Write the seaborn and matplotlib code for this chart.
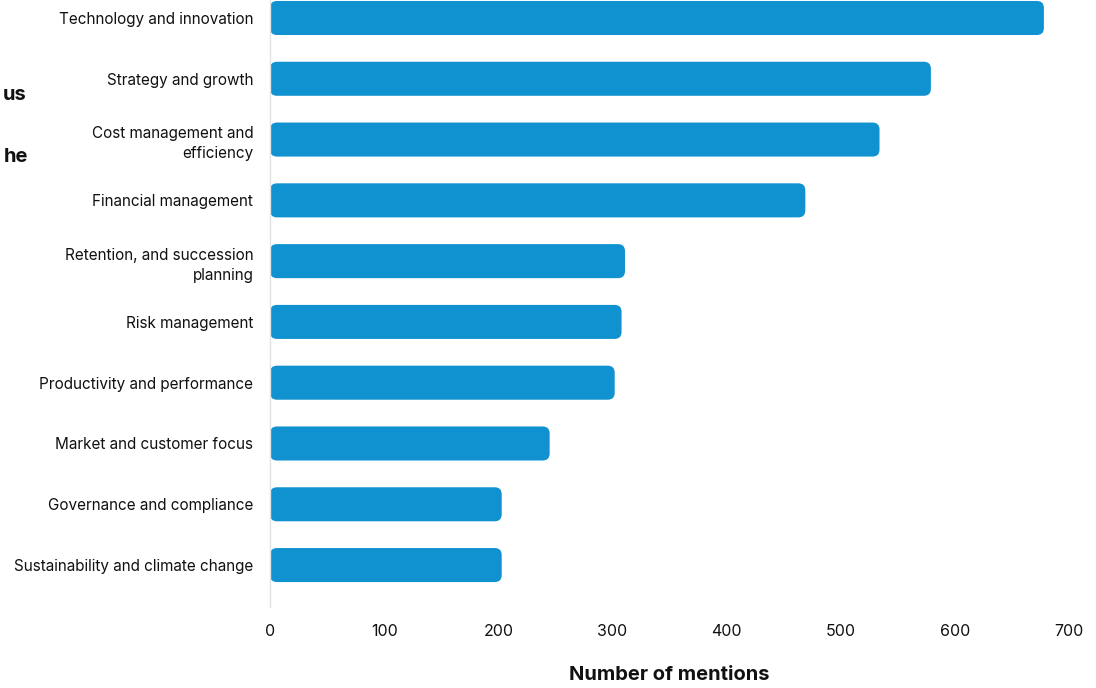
import matplotlib
matplotlib.use("Agg")
import matplotlib.pyplot as plt
from matplotlib.patches import FancyBboxPatch
import seaborn as sns
import pandas as pd

themes = [
    "Technology and innovation",
    "Strategy and growth",
    "Cost management and\nefficiency",
    "Financial management",
    "Retention, and succession\nplanning",
    "Risk management",
    "Productivity and performance",
    "Market and customer focus",
    "Governance and compliance",
    "Sustainability and climate change",
]
mentions = [678, 579, 534, 469, 311, 308, 302, 245, 203, 203]
x_ticks = [0, 100, 200, 300, 400, 500, 600, 700]

BAR_COLOR = "#1192d0"

sns.set_theme(style="white")
plt.rcParams["font.family"] = ["Inter", "DejaVu Sans"]

df = pd.DataFrame({"theme": themes, "mentions": mentions})

fig = plt.figure(figsize=(10.96, 6.88), dpi=100)
ax = fig.add_axes([270 / 1096, 81 / 688, (1069 - 270) / 1096, 607 / 688])

sns.barplot(data=df, x="mentions", y="theme", color=BAR_COLOR,
            orient="h", width=0.56, ax=ax, saturation=1)

ax.set_xlim(0, 700)
ax.set_ylim(9.69, -0.296)

# swap square bars for rounded ones
x_per_px = 700 / (1069 - 270)
y_per_px = (9.69 + 0.296) / 607
radius_px = 7
for bar in list(ax.patches):
    x0, y0 = bar.get_x(), bar.get_y()
    w, h = bar.get_width(), bar.get_height()
    rounded = FancyBboxPatch(
        (x0, y0), w, h,
        boxstyle=f"round,pad=0,rounding_size={radius_px * x_per_px}",
        mutation_aspect=y_per_px / x_per_px,
        facecolor=BAR_COLOR, edgecolor="none", zorder=2,
    )
    bar.remove()
    ax.add_patch(rounded)

ax.set_xticks(x_ticks)
ax.set_xticklabels([str(t) for t in x_ticks], fontsize=11.5, color="#111111")
ax.tick_params(axis="x", length=0, pad=12)
ax.tick_params(axis="y", length=0, pad=12, labelsize=11, labelcolor="#111111")
for lbl in ax.get_yticklabels():
    lbl.set_multialignment("right")
    lbl.set_linespacing(1.45)

ax.set_ylabel("")
ax.set_xlabel("Number of mentions", fontsize=14.5, fontweight="bold",
              color="#111111", labelpad=20)

for side in ["top", "right", "bottom"]:
    ax.spines[side].set_visible(False)
ax.spines["left"].set_color("#e2e2e2")
ax.spines["left"].set_linewidth(1.0)

# tail ends of the side heading that runs off the left edge
fig.text(26 / 1096, 1 - 95 / 688, "us", fontsize=14.5, fontweight="bold",
         ha="right", va="center", color="#111111")
fig.text(28 / 1096, 1 - 157 / 688, "he", fontsize=14.5, fontweight="bold",
         ha="right", va="center", color="#111111")

fig.savefig("out.png", dpi=100)
